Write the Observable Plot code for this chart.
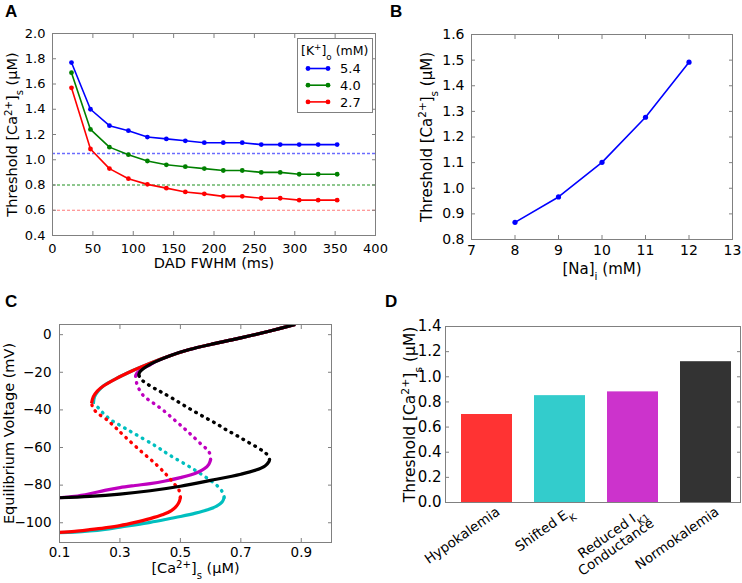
<!DOCTYPE html>
<html><head><meta charset="utf-8">
<script src="https://cdn.jsdelivr.net/npm/d3@7"></script>
<script src="https://cdn.jsdelivr.net/npm/@observablehq/plot@0.6"></script>
<style>
body{margin:0;background:#fff;}
#fig{position:relative;width:742px;height:583px;font-family:"DejaVu Sans",sans-serif;overflow:hidden;}
.panel{position:absolute;}
.panel svg{overflow:visible;}
</style></head><body><div id="fig"></div>
<script>
// ---------- Panel A: threshold vs DAD FWHM for three [K+]o ----------
const fwhm = [23.5,47,70.5,94,117.5,141,164.5,188,211.5,235,258.5,282,305.5,329,352.5];
const thrK54 = [1.77,1.40,1.27,1.23,1.18,1.165,1.15,1.135,1.135,1.135,1.12,1.12,1.12,1.12,1.12];
const thrK40 = [1.69,1.24,1.10,1.04,0.99,0.96,0.945,0.93,0.915,0.915,0.90,0.90,0.885,0.885,0.885];
const thrK27 = [1.57,1.085,0.93,0.85,0.805,0.775,0.745,0.73,0.71,0.71,0.695,0.695,0.68,0.68,0.68];
const kLabels = ["5.4","4.0","2.7"];
const kColors = ["#0000ff","#008000","#ff0000"];
const refLevels = [1.05,0.80,0.60];
const refColors = ["#6b6bff","#1f8f1f","#ff7a7a"];
const xTicksA = [0,50,100,150,200,250,300,350,400];
const yTicksA = [0.4,0.6,0.8,1.0,1.2,1.4,1.6,1.8,2.0];

// ---------- Panel B: threshold vs [Na]i ----------
const naI = [8,9,10,11,12];
const thrNa = [0.867,0.966,1.101,1.277,1.492];
const xTicksB = [7,8,9,10,11,12,13];
const yTicksB = [0.8,0.9,1.0,1.1,1.2,1.3,1.4,1.5,1.6];

// ---------- Panel C: equilibrium voltage (mV) vs [Ca2+]s (uM), [Ca, V] ----------
const hypoStableLow = [[0.1,-105.1],[0.15,-104.6],[0.2,-103.7],[0.25,-102.7],[0.3,-101.5],[0.35,-99.8],[0.4,-97.8],[0.44,-95.8],[0.47,-93.6],[0.488,-91],[0.497,-88.5],[0.5,-86.5]];
const hypoUnstable = [[0.5,-86.5],[0.497,-83.3],[0.486,-80.6],[0.471,-77.6],[0.451,-74],[0.418,-68.7],[0.374,-62.6],[0.319,-54.6],[0.286,-49.5],[0.255,-45],[0.228,-42],[0.212,-39.3],[0.206,-36.5]];
const hypoStableUp = [[0.206,-36.5],[0.212,-33],[0.225,-30],[0.245,-27.3],[0.286,-23.5],[0.341,-19.2],[0.396,-15.4],[0.461,-11.5],[0.53,-7.9],[0.6,-5.2],[0.67,-2.8],[0.73,-0.6],[0.8,2.1],[0.88,5.4]];
const shiftStableLow = [[0.1,-105.2],[0.15,-105],[0.2,-104.4],[0.25,-103.5],[0.3,-102.3],[0.35,-101.1],[0.4,-99.8],[0.45,-98.3],[0.5,-96.7],[0.55,-94.9],[0.59,-93.1],[0.62,-91.2],[0.638,-89],[0.645,-86.5]];
const shiftUnstable = [[0.645,-86.5],[0.64,-84],[0.63,-81.6],[0.6,-77.6],[0.533,-70.5],[0.467,-64.3],[0.418,-59.2],[0.341,-52],[0.3,-48.2],[0.27,-45.3],[0.245,-41.8],[0.226,-38.5],[0.212,-36.8]];
const shiftStableUp = [[0.212,-36.8],[0.216,-33],[0.228,-30],[0.245,-27.3],[0.286,-23.5],[0.341,-19.2],[0.396,-15.4],[0.461,-11.5],[0.53,-7.9],[0.6,-5.2],[0.67,-2.8],[0.73,-0.6],[0.8,2.1],[0.88,5.4]];
const ik1StableLow = [[0.1,-86.7],[0.15,-86.0],[0.2,-84.6],[0.25,-82.8],[0.3,-81.3],[0.35,-80.2],[0.4,-79.2],[0.45,-77.8],[0.5,-76.0],[0.533,-74.6],[0.56,-73],[0.58,-71.2],[0.594,-68.9],[0.6,-66.5]];
const ik1Unstable = [[0.6,-66.5],[0.598,-63.5],[0.588,-61],[0.571,-58.6],[0.539,-53.7],[0.511,-49.6],[0.478,-45],[0.44,-39.8],[0.407,-36],[0.38,-32.8],[0.365,-29.5],[0.355,-25.6],[0.352,-22]];
const ik1StableUp = [[0.352,-22],[0.356,-20.5],[0.37,-18.5],[0.4,-16],[0.42,-14.2],[0.47,-10.9],[0.53,-7.9],[0.6,-5.2],[0.67,-2.8],[0.73,-0.6],[0.8,2.1],[0.88,5.4]];
const normoStableLow = [[0.1,-86.7],[0.2,-86.0],[0.3,-84.8],[0.4,-83.0],[0.5,-80.6],[0.6,-77.5],[0.7,-74.2],[0.75,-72],[0.78,-69.8],[0.793,-67.5],[0.795,-66.5]];
const normoUnstable = [[0.795,-66.5],[0.792,-64.6],[0.778,-62.5],[0.753,-59.8],[0.72,-56.8],[0.687,-53.7],[0.654,-50.8],[0.621,-47.5],[0.588,-44.6],[0.55,-41.2],[0.511,-37.5],[0.473,-33.8],[0.44,-30.8],[0.418,-28.9],[0.39,-26.2],[0.372,-24],[0.362,-21.5]];
const normoStableUp = [[0.362,-21.5],[0.366,-19.8],[0.378,-18],[0.4,-15.8],[0.42,-14.2],[0.47,-10.9],[0.53,-7.9],[0.6,-5.2],[0.67,-2.8],[0.73,-0.6],[0.8,2.1],[0.88,5.4]];
const xTicksC = [0.1,0.3,0.5,0.7,0.9];
const yTicksC = [0,-20,-40,-60,-80,-100];

// ---------- Panel D: threshold by condition ----------
const dNames = ["Hypokalemia","Shifted E_{K}","Reduced I_{K1}\nConductance","Normokalemia"];
const dValues = [0.70,0.85,0.88,1.12];
const dColors = ["#ff3333","#33cccc","#cc33cc","#333333"];
const yTicksD = [0,0.2,0.4,0.6,0.8,1.0,1.2,1.4];

// ---------- helpers ----------
const GRAY = "#808080";
const fig = document.getElementById("fig");
const SVGNS = "http://www.w3.org/2000/svg";

function richify(root) {
  root.querySelectorAll("text, tspan").forEach(el => {
    if ([...el.childNodes].some(n => n.nodeType !== 3)) return;
    const s = el.textContent;
    if (!/[_^]\{/.test(s)) return;
    el.textContent = "";
    const re = /([_^])\{([^}]*)\}/g;
    let last = 0, m;
    while ((m = re.exec(s))) {
      if (m.index > last) el.appendChild(document.createTextNode(s.slice(last, m.index)));
      const t = document.createElementNS(SVGNS, "tspan");
      t.setAttribute("baseline-shift", m[1] === "^" ? "super" : "sub");
      t.setAttribute("font-size", "70%");
      t.textContent = m[2];
      el.appendChild(t);
      last = re.lastIndex;
    }
    if (last < s.length) el.appendChild(document.createTextNode(s.slice(last)));
  });
}

function boxAxes({xTicks, yTicks, xFmt, yFmt, fs, xPad, yPad, top = true, right = true, bottomTicks = true}) {
  const none = () => "";
  const tk = {tickSize: 4, color: GRAY, label: null, tickFormat: none};
  const marks = [];
  if (yTicks) {
    marks.push(Plot.axisY({...tk, anchor: "left", ticks: yTicks, dx: 4}));
    if (right) marks.push(Plot.axisY({...tk, anchor: "right", ticks: yTicks, dx: -4}));
    marks.push(Plot.axisY({anchor: "left", ticks: yTicks, tickSize: 0, tickPadding: yPad, tickFormat: yFmt, label: null, fontSize: fs, color: "black"}));
  }
  if (xTicks) {
    if (bottomTicks) marks.push(Plot.axisX({...tk, anchor: "bottom", ticks: xTicks, dy: -4}));
    if (top) marks.push(Plot.axisX({...tk, anchor: "top", ticks: xTicks, dy: 4}));
    marks.push(Plot.axisX({anchor: "bottom", ticks: xTicks, tickSize: 0, tickPadding: xPad, tickFormat: xFmt, label: null, fontSize: fs, color: "black"}));
  }
  return marks;
}

function axisLabels({xLabel, yLabel, fs, xDy, yDx}) {
  const m = [];
  if (xLabel) m.push(Plot.text([xLabel], {frameAnchor: "bottom", dy: xDy, text: d => d, fontSize: fs, fill: "black", textAnchor: "middle", lineAnchor: "middle"}));
  if (yLabel) m.push(Plot.text([yLabel], {frameAnchor: "left", dx: yDx, rotate: -90, text: d => d, fontSize: fs, fill: "black", textAnchor: "middle", lineAnchor: "middle"}));
  return m;
}

function place(svg, left, top) {
  const d = document.createElement("div");
  d.className = "panel";
  d.style.left = left + "px";
  d.style.top = top + "px";
  d.appendChild(svg);
  fig.appendChild(d);
  richify(svg);
}

const style = fs => ({fontFamily: "DejaVu Sans", fontSize: fs + "px", overflow: "visible", background: "transparent", color: "black"});
const f1 = d3.format(".1f");
const thrLabel = "Threshold [Ca^{2+}]_{s} (\u03bcM)";

// ---------- A ----------
const seriesA = [thrK54, thrK40, thrK27];
const plotA = Plot.plot({
  width: 380, height: 290, marginLeft: 52, marginRight: 5, marginTop: 33, marginBottom: 55,
  style: style(13),
  x: {domain: [0, 400]}, y: {domain: [0.4, 2.0]},
  marks: [
    ...refLevels.map((v, i) => Plot.ruleY([v], {y: d => d, stroke: refColors[i], strokeDasharray: "3,2", strokeWidth: i === 0 ? 1.6 : 1.2})),
    ...seriesA.flatMap((ys, i) => [
      Plot.line(fwhm, {x: d => d, y: (d, j) => ys[j], stroke: kColors[i], strokeWidth: 1.6}),
      Plot.dot(fwhm, {x: d => d, y: (d, j) => ys[j], fill: kColors[i], r: 2.4})
    ]),
    Plot.frame({stroke: GRAY}),
    ...boxAxes({xTicks: xTicksA, yTicks: yTicksA, xFmt: d3.format("d"), yFmt: f1, fs: 13, xPad: 8, yPad: 7}),
    ...axisLabels({xLabel: "DAD FWHM (ms)", yLabel: thrLabel, fs: 14.5, xDy: 27.5, yDx: -40})
  ]
});
place(plotA, 0, 0);

// ---------- B ----------
const plotB = Plot.plot({
  width: 362, height: 290, marginLeft: 91, marginRight: 10, marginTop: 34, marginBottom: 51,
  style: style(14),
  x: {domain: [7, 13]}, y: {domain: [0.8, 1.6]},
  marks: [
    Plot.line(naI, {x: d => d, y: (d, j) => thrNa[j], stroke: "#0000ff", strokeWidth: 1.6}),
    Plot.dot(naI, {x: d => d, y: (d, j) => thrNa[j], fill: "#0000ff", r: 2.6}),
    Plot.frame({stroke: GRAY}),
    ...boxAxes({xTicks: xTicksB, yTicks: yTicksB, xFmt: d3.format("d"), yFmt: f1, fs: 14, xPad: 6, yPad: 7}),
    ...axisLabels({xLabel: "[Na]_{i} (mM)", yLabel: thrLabel, fs: 15, xDy: 30, yDx: -44})
  ]
});
place(plotB, 380, 0);

// ---------- C ----------
const branches = [
  {pts: shiftStableLow, c: "#00bfbf", dot: false}, {pts: shiftUnstable, c: "#00bfbf", dot: true}, {pts: shiftStableUp, c: "#00bfbf", dot: false},
  {pts: ik1StableLow, c: "#bf00bf", dot: false}, {pts: ik1Unstable, c: "#bf00bf", dot: true}, {pts: ik1StableUp, c: "#bf00bf", dot: false},
  {pts: hypoStableLow, c: "#ff0000", dot: false}, {pts: hypoUnstable, c: "#ff0000", dot: true}, {pts: hypoStableUp, c: "#ff0000", dot: false},
  {pts: normoStableLow, c: "#000000", dot: false}, {pts: normoUnstable, c: "#000000", dot: true}, {pts: normoStableUp, c: "#000000", dot: false}
];
const plotC = Plot.plot({
  width: 380, height: 293, marginLeft: 59, marginRight: 49, marginTop: 34, marginBottom: 41,
  style: style(13.5),
  x: {domain: [0.1, 1.0]}, y: {domain: [-110.5, 5.4]},
  marks: [
    ...branches.map(b => Plot.line(b.pts, {x: d => d[0], y: d => d[1], stroke: b.c, strokeWidth: b.dot ? 3.4 : 3.2, curve: "catmull-rom", clip: true,
      strokeDasharray: b.dot ? "0.6,6.2" : null, strokeLinecap: b.dot ? "round" : "butt"})),
    Plot.frame({stroke: GRAY}),
    ...boxAxes({xTicks: xTicksC, yTicks: yTicksC, xFmt: f1, yFmt: d3.format("d"), fs: 13.5, xPad: 5, yPad: 8}),
    ...axisLabels({xLabel: "[Ca^{2+}]_{s} (\u03bcM)", yLabel: "Equilibrium Voltage (mV)", fs: 14.5, xDy: 26, yDx: -50})
  ]
});
place(plotC, 0, 290);

// ---------- D ----------
const plotD = Plot.plot({
  width: 362, height: 293, marginLeft: 65, marginRight: 2, marginTop: 36, marginBottom: 81,
  style: style(15),
  x: {type: "band", domain: dNames, paddingInner: 0.295, paddingOuter: 0.151, align: 0.67, axis: null},
  y: {domain: [0, 1.4]},
  color: {type: "identity"},
  marks: [
    Plot.barY(dNames, {x: d => d, y: (d, j) => dValues[j], fill: (d, j) => dColors[j]}),
    Plot.frame({stroke: GRAY}),
    ...boxAxes({yTicks: yTicksD, yFmt: f1, fs: 15, yPad: 4}),
    Plot.text(dNames, {x: d => d, frameAnchor: "bottom", text: d => d, rotate: -35, textAnchor: "end", lineAnchor: "top", dx: 8, dy: 3, fontSize: 13.5, lineHeight: 1.05, fill: "black"}),
    ...axisLabels({yLabel: thrLabel, fs: 15.5, yDx: -35})
  ]
});
place(plotD, 380, 290);

// ---------- overlay: panel letters and legend for A ----------
const ov = d3.select(fig).append("svg").attr("width", 742).attr("height", 583)
  .style("position", "absolute").style("left", 0).style("top", 0).style("pointer-events", "none");
[["A", 5, 17], ["B", 390, 17], ["C", 5, 307], ["D", 385, 307]].forEach(([t, x, y]) =>
  ov.append("text").attr("x", x).attr("y", y).attr("font-family", "Liberation Sans, Arial, sans-serif")
    .attr("font-weight", "bold").attr("font-size", 17).text(t));
const lg = ov.append("g").attr("font-family", "DejaVu Sans");
lg.append("rect").attr("x", 297.5).attr("y", 38.5).attr("width", 75).attr("height", 74).attr("fill", "white").attr("stroke", GRAY);
lg.append("text").attr("x", 301).attr("y", 54.5).attr("font-size", 12.5).text("[K^{+}]_{o} (mM)");
kLabels.forEach((lab, i) => {
  const y = 68.5 + i * 16.7;
  lg.append("line").attr("x1", 308).attr("x2", 328).attr("y1", y).attr("y2", y).attr("stroke", kColors[i]).attr("stroke-width", 1.6);
  [308, 328].forEach(x => lg.append("circle").attr("cx", x).attr("cy", y).attr("r", 2.4).attr("fill", kColors[i]));
  lg.append("text").attr("x", 340).attr("y", y + 4.6).attr("font-size", 13).text(lab);
});
richify(ov.node());
</script></body></html>
